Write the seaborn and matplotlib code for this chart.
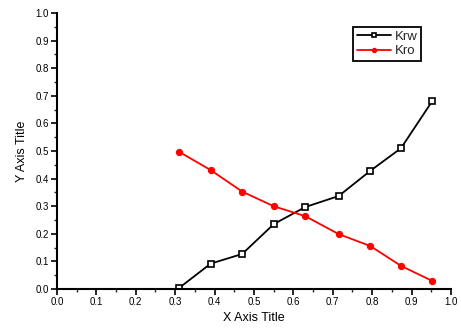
import matplotlib
matplotlib.use("Agg")
import matplotlib.pyplot as plt
import seaborn as sns
import pandas as pd
import numpy as np
from matplotlib.ticker import MultipleLocator

sw = [0.31, 0.39, 0.47, 0.55, 0.63, 0.715, 0.795, 0.873, 0.953]
krw = [0.004, 0.092, 0.127, 0.235, 0.297, 0.337, 0.428, 0.51, 0.682]
kro = [0.497, 0.431, 0.353, 0.30, 0.264, 0.199, 0.156, 0.084, 0.029]

sns.set_theme(style="white")
plt.rcParams['font.family'] = ['Liberation Sans', 'DejaVu Sans']

df = pd.DataFrame({"x": sw, "Krw": krw, "Kro": kro})

fig = plt.figure(figsize=(4.61, 3.33), dpi=100)
ax = fig.add_axes([0.1236, 0.132, 0.9783 - 0.1236, 0.961 - 0.132])

sns.lineplot(data=df, x="x", y="Krw", ax=ax, color="black", lw=1.3,
             marker="s", markersize=4, markerfacecolor="white",
             markeredgecolor="black", markeredgewidth=1.2, label="Krw")
sns.lineplot(data=df, x="x", y="Kro", ax=ax, color="red", lw=1.3,
             marker="o", markersize=4.5, markerfacecolor="red",
             markeredgecolor="red", label="Kro")

ax.set_xlim(0, 1.0)
ax.set_ylim(0, 1.0)
ax.xaxis.set_major_locator(MultipleLocator(0.1))
ax.yaxis.set_major_locator(MultipleLocator(0.1))
ax.xaxis.set_minor_locator(MultipleLocator(0.05))
ax.yaxis.set_minor_locator(MultipleLocator(0.05))
ax.xaxis.set_major_formatter(matplotlib.ticker.FormatStrFormatter('%.1f'))
ax.yaxis.set_major_formatter(matplotlib.ticker.FormatStrFormatter('%.1f'))
ax.tick_params(which="major", direction="out", length=4, width=1.2,
               labelsize=7, colors="black", bottom=True, left=True, pad=2)
ax.tick_params(which="minor", direction="out", length=2, width=1.0,
               bottom=True, left=True)
for s in ["top", "right"]:
    ax.spines[s].set_visible(False)
for s in ["left", "bottom"]:
    ax.spines[s].set_color("black")
    ax.spines[s].set_linewidth(1.5)

ax.set_xlabel("X Axis Title", fontsize=9, color="black", labelpad=3)
ax.set_ylabel("Y Axis Title", fontsize=9, color="black", labelpad=5)

leg = ax.legend(loc="upper right", bbox_to_anchor=(0.924, 0.949), borderaxespad=0,
                fontsize=9.5, frameon=True, fancybox=False, edgecolor="black",
                borderpad=0.25, handlelength=2.6, handletextpad=0.3,
                labelspacing=0.2, markerscale=0.7)
leg.get_frame().set_linewidth(1.3)
leg.get_frame().set_alpha(1)

fig.savefig("out.png", dpi=100)
